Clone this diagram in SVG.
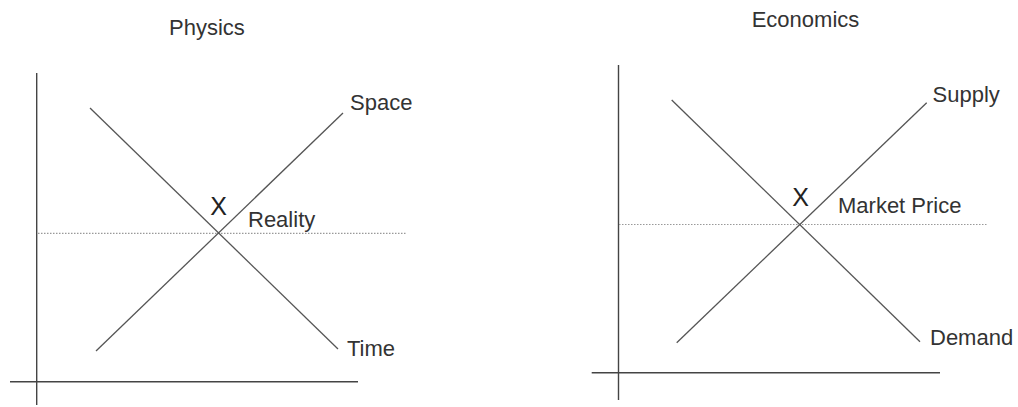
<svg xmlns="http://www.w3.org/2000/svg" width="1018" height="407" viewBox="0 0 1018 407">
<style>
.t{font-family:"Liberation Sans",Arial,sans-serif;font-size:22px;fill:#333}
.x{font-family:"Liberation Sans",Arial,sans-serif;font-size:25px;fill:#222;text-anchor:middle}
.axis{stroke:#444;stroke-width:1.4;fill:none}
.curve{stroke:#555;stroke-width:1.3;fill:none}
.dot{stroke:#999;stroke-width:1.2;stroke-dasharray:1.5 1.5;fill:none}
</style>
<rect width="1018" height="407" fill="#fff"/>
<g id="physics-panel">
  <text id="physics-title" class="t" x="169" y="35">Physics</text>
  <g id="physics-connectors">
    <line class="axis" x1="36.7" y1="73" x2="36.7" y2="405"/>
    <line class="axis" x1="10" y1="381.7" x2="358" y2="381.7"/>
    <line class="dot" x1="38" y1="233.3" x2="407" y2="233.3"/>
    <line class="curve" x1="90" y1="108" x2="338" y2="349"/>
    <line class="curve" x1="96" y1="351" x2="343" y2="113"/>
  </g>
  <g id="physics-labels">
    <text class="x" x="218.6" y="215">X</text>
    <text class="t" x="248" y="226.7">Reality</text>
    <text class="t" x="350" y="110">Space</text>
    <text class="t" x="347" y="356">Time</text>
  </g>
</g>
<g id="economics-panel">
  <text id="economics-title" class="t" x="751.7" y="26.7">Economics</text>
  <g id="economics-connectors">
    <line class="axis" x1="618.5" y1="65" x2="618.5" y2="400"/>
    <line class="axis" x1="591.7" y1="372.7" x2="940" y2="372.7"/>
    <line class="dot" x1="619" y1="224.5" x2="988" y2="224.5"/>
    <line class="curve" x1="671.7" y1="100" x2="920" y2="341.7"/>
    <line class="curve" x1="676.7" y1="342.7" x2="926.7" y2="102.7"/>
  </g>
  <g id="economics-labels">
    <text class="x" x="800.5" y="205.7">X</text>
    <text class="t" x="838" y="213.3">Market Price</text>
    <text class="t" x="932.5" y="101.7">Supply</text>
    <text class="t" x="930" y="345">Demand</text>
  </g>
</g>
</svg>
